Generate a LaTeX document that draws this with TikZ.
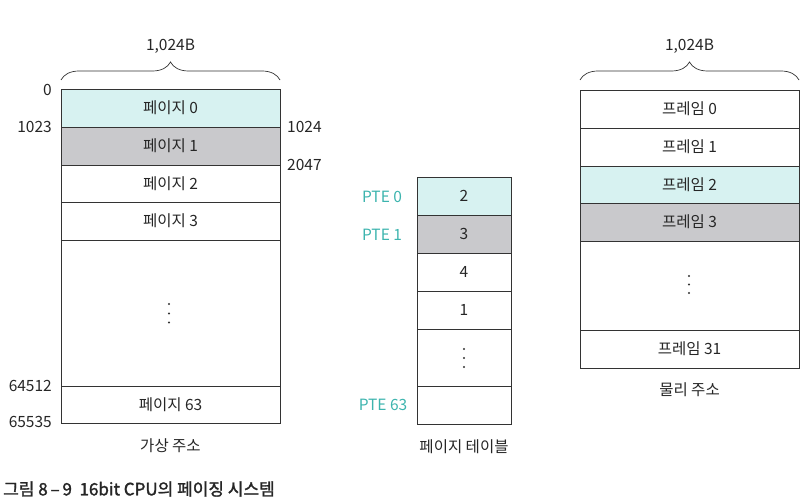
\documentclass[tikz,border=0pt]{standalone}
\usepackage{fontspec}
\setmainfont{Noto Sans CJK KR}
\newfontfamily\capfont[FakeBold=1.6]{Noto Sans CJK KR}
\usetikzlibrary{decorations.pathreplacing}
\definecolor{tealfill}{HTML}{D7F2F1}
\definecolor{grayfill}{HTML}{C9C9CC}
\definecolor{tealtext}{HTML}{3DB4AE}
\definecolor{linec}{HTML}{333333}
\tikzset{
  lbl/.style={inner sep=0pt, font=\fontsize{15.5}{18}\selectfont, text=black!85},
  ptelbl/.style={inner sep=0pt, font=\fontsize{15.5}{18}\selectfont, text=tealtext},
  brc/.style={draw=linec, line width=0.7pt, decorate, decoration={brace, amplitude=18pt}},
  dotc/.style={fill=black!80, draw=none}
}
\begin{document}
\begin{tikzpicture}[x=1pt,y=-1pt]
\useasboundingbox (0,0) rectangle (810,502);
% ---------- virtual address space ----------
\path[fill=tealfill] (61,89) rectangle (280,127);
\path[fill=grayfill] (61,127) rectangle (280,165);
\node[lbl] (vp0) at (170.5,108) {페이지 0};
\node[lbl] (vp1) at (170.5,146) {페이지 1};
\node[lbl] (vp2) at (170.5,184) {페이지 2};
\node[lbl] (vp3) at (170.5,221) {페이지 3};
\node[lbl] (vp63) at (170.5,405) {페이지 63};
\draw[linec, line width=0.8pt] (61,89) rectangle (280,423);
\foreach \yy in {127,165,202,240,386} \draw[linec, line width=0.8pt] (61,\yy) -- (280,\yy);
\foreach \yy in {304,313.5,322.5} \fill[dotc] (169,\yy) circle (1.1);
\draw[brc] (61,80) -- (280,80);
\node[lbl] (vsize) at (170.5,46) {1,024B};
\node[lbl, anchor=east] (a0) at (52,90) {0};
\node[lbl, anchor=east] (a1023) at (52,127) {1023};
\node[lbl, anchor=west] (a1024) at (287,127) {1024};
\node[lbl, anchor=west] (a2047) at (287,165) {2047};
\node[lbl, anchor=east] (a64512) at (52,386) {64512};
\node[lbl, anchor=east] (a65535) at (52,422) {65535};
\node[lbl] (vtitle) at (170.5,446) {가상 주소};
% ---------- page table ----------
\path[fill=tealfill] (417,177) rectangle (511,215);
\path[fill=grayfill] (417,215) rectangle (511,253);
\draw[linec, line width=0.8pt] (417,177) rectangle (511,424);
\foreach \yy in {215,253,291,329,386} \draw[linec, line width=0.8pt] (417,\yy) -- (511,\yy);
\node[lbl] (pt0) at (464,196) {2};
\node[lbl] (pt1) at (464,234) {3};
\node[lbl] (pt2) at (464,272) {4};
\node[lbl] (pt3) at (464,310) {1};
\foreach \yy in {349,358,367} \fill[dotc] (464,\yy) circle (1.1);
\node[ptelbl] (pte0) at (382,197) {PTE 0};
\node[ptelbl] (pte1) at (382,235) {PTE 1};
\node[ptelbl] (pte63) at (383,405) {PTE 63};
\node[lbl] (pttitle) at (464,447) {페이지 테이블};
% ---------- physical address space ----------
\path[fill=tealfill] (580,166) rectangle (799,203);
\path[fill=grayfill] (580,203) rectangle (799,241);
\draw[linec, line width=0.8pt] (580,90) rectangle (799,368);
\foreach \yy in {128,166,203,241,330} \draw[linec, line width=0.8pt] (580,\yy) -- (799,\yy);
\node[lbl] (f0) at (689.5,109) {프레임 0};
\node[lbl] (f1) at (689.5,147) {프레임 1};
\node[lbl] (f2) at (689.5,184.5) {프레임 2};
\node[lbl] (f3) at (689.5,222) {프레임 3};
\node[lbl] (f31) at (689.5,349) {프레임 31};
\foreach \yy in {276,284.5,293} \fill[dotc] (689,\yy) circle (1.1);
\draw[brc] (580,80) -- (799,80);
\node[lbl] (psize) at (689.5,46) {1,024B};
\node[lbl] (ptitle) at (689.5,390) {물리 주소};
% ---------- caption ----------
\node[inner sep=0pt, anchor=west, font=\capfont\fontsize{17}{20}\selectfont, text=black!85] (cap) at (3,489) {그림 8\,–\,9\ \ 16bit CPU의 페이징 시스템};
\end{tikzpicture}
\end{document}
